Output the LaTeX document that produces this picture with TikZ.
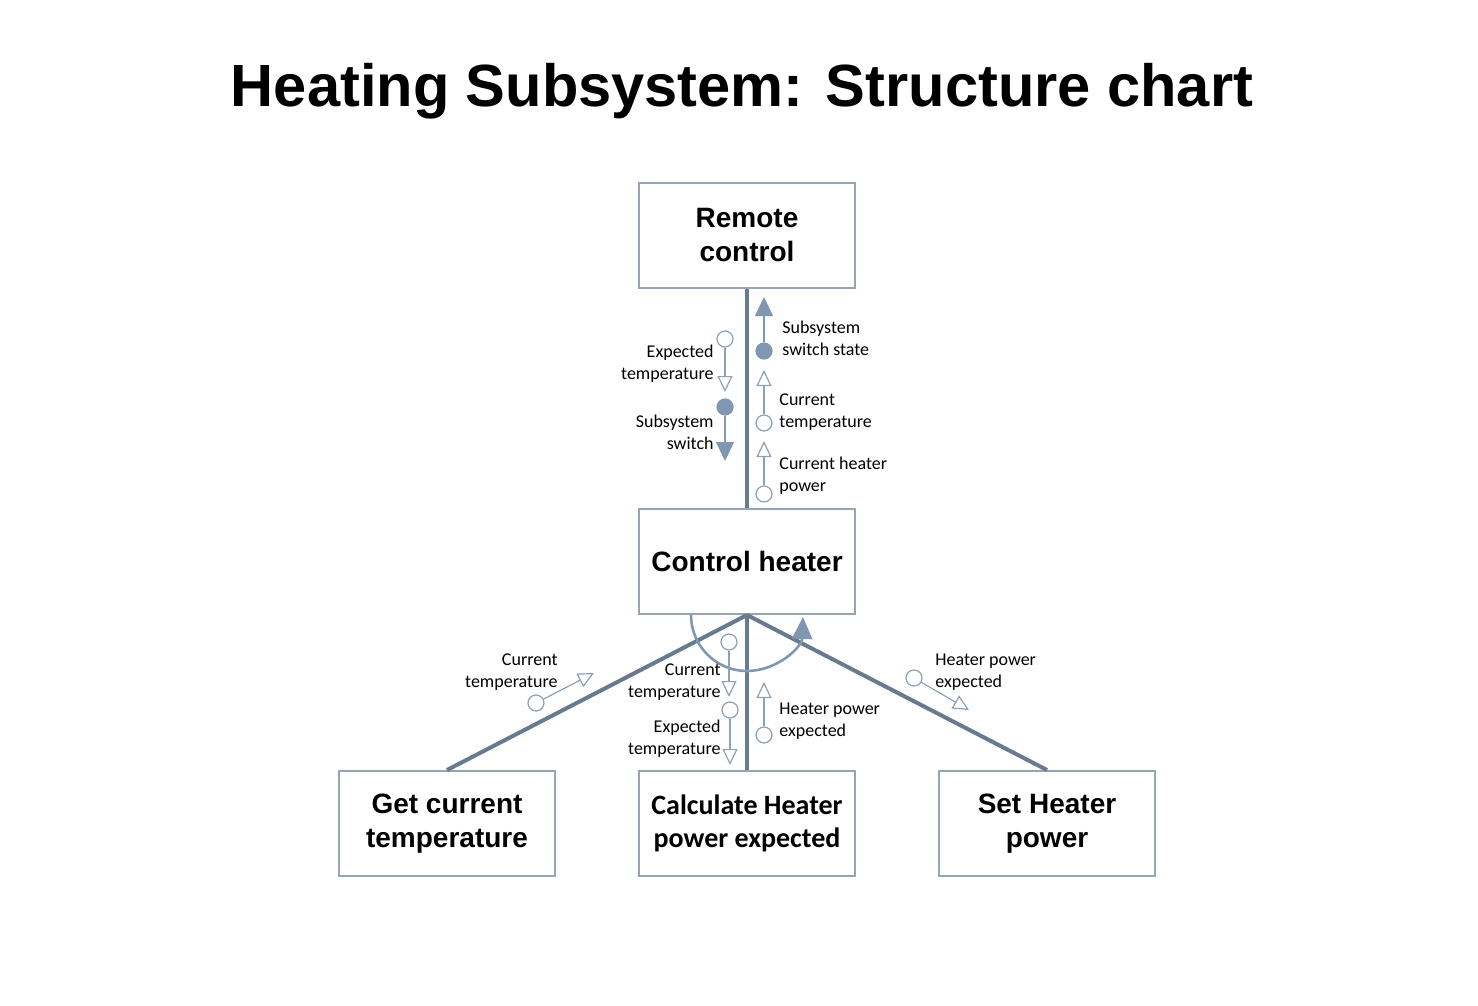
\documentclass[tikz,border=0pt]{standalone}
\usepackage{fontspec}
\setmainfont{Carlito}
\newfontfamily\headfont{Liberation Sans}
\usetikzlibrary{positioning,arrows.meta}

\definecolor{boxline}{RGB}{150,165,180}
\definecolor{mainline}{RGB}{104,122,142}
\definecolor{flowline}{RGB}{140,160,182}
\definecolor{flowfill}{RGB}{127,151,176}

\begin{document}
\begin{tikzpicture}[
    x=0.5pt, y=-0.5pt,
    box/.style={draw=boxline, line width=1pt, minimum width=108pt, minimum height=52.5pt,
        align=center, inner sep=0pt, font=\headfont\bfseries\fontsize{14}{17}\selectfont},
    link/.style={draw=mainline, line width=2pt},
    flow/.style={draw=flowline, line width=0.6pt},
    data/.style={flow, -{Triangle[open, length=8pt, width=7.5pt]}},
    ctrl/.style={draw=flowfill, line width=0.6pt, -{Triangle[length=9.5pt, width=9pt]}},
    dcirc/.style={circle, draw=flowline, fill=white, line width=0.6pt, minimum size=8pt, inner sep=0pt},
    ccirc/.style={dcirc, draw=flowfill, fill=flowfill},
    lab/.style={font=\fontsize{9}{11}\selectfont, inner sep=0pt},
    node distance=109.5pt and 41pt]

\useasboundingbox (0,0) rectangle (1478,1006);

% --- title
\node[font=\headfont\bfseries\fontsize{29.8}{36}\selectfont, anchor=base] (title) at (742,107)
    {Heating Subsystem: Structure chart};

% --- modules
\node[box] (remote) at (747,235.5) {Remote\\control};
\node[box, below=of remote] (control) {Control heater};
\node[box, below=77.5pt of control, font=\bfseries\fontsize{14}{16.5}\selectfont] (calc)
    {Calculate Heater\\power expected};
\node[box, left=of calc] (getcur) {Get current\\temperature};
\node[box, right=of calc] (setpow) {Set Heater\\power};

% --- calls
\draw[link] (remote) -- (control);
\draw[link] (control.south) -- (getcur.north);
\draw[link] (control.south) -- (calc.north);
\draw[link] (control.south) -- (setpow.north);

% --- loop
\coordinate (loopst) at ([xshift=-28pt]control.south);
\draw[flowfill, line width=1.3pt, -{Triangle[length=11pt, width=10pt]}]
    (loopst) arc[start angle=180, end angle=358, radius=28pt];

% --- couples, remote control <-> control heater
\node[dcirc] (exptmp) at (725,339) {};
\coordinate (exptmpe) at (725,392);
\draw[data] (exptmp) -- (exptmpe);
\node[lab, align=right, anchor=east] (exptmplab) at (714,364) {Expected\\temperature};

\node[ccirc] (subsw) at (725,407) {};
\coordinate (subswe) at (725,461);
\draw[ctrl] (subsw) -- (subswe);
\node[lab, align=right, anchor=east] (subswlab) at (714,432) {Subsystem\\switch};

\node[ccirc] (swstate) at (764,351) {};
\coordinate (swstatee) at (764,297);
\draw[ctrl] (swstate) -- (swstatee);
\node[lab, align=left, anchor=west] (swstatelab) at (782,338) {Subsystem\\switch state};

\node[dcirc] (curtmp) at (764,423) {};
\coordinate (curtmpe) at (764,370);
\draw[data] (curtmp) -- (curtmpe);
\node[lab, align=left, anchor=west] (curtmplab) at (779,412) {Current\\temperature};

\node[dcirc] (curpow) at (764,494) {};
\coordinate (curpowe) at (764,441);
\draw[data] (curpow) -- (curpowe);
\node[lab, align=left, anchor=west] (curpowlab) at (779,476) {Current heater\\power};

% --- couples, control heater -> lower modules
\node[dcirc] (gettmp) at (536,703) {};
\coordinate (gettmpe) at (594,673);
\draw[data] (gettmp) -- (gettmpe);
\node[lab, align=right, anchor=east] (gettmplab) at (558,672) {Current\\temperature};

\node[dcirc] (calctmp) at (729,642) {};
\coordinate (calctmpe) at (729,697);
\draw[data] (calctmp) -- (calctmpe);
\node[lab, align=right, anchor=east] (calctmplab) at (721,682) {Current\\temperature};

\node[dcirc] (calcexp) at (730,710) {};
\coordinate (calcexpe) at (730,765);
\draw[data] (calcexp) -- (calcexpe);
\node[lab, align=right, anchor=east] (calcexplab) at (721,739) {Expected\\temperature};

\node[dcirc] (calcpow) at (764,735) {};
\coordinate (calcpowe) at (764,682);
\draw[data] (calcpow) -- (calcpowe);
\node[lab, align=left, anchor=west] (calcpowlab) at (779,721) {Heater power\\expected};

\node[dcirc] (setexp) at (914,678) {};
\coordinate (setexpe) at (969,710);
\draw[data] (setexp) -- (setexpe);
\node[lab, align=left, anchor=west] (setexplab) at (935,672) {Heater power\\expected};
\end{tikzpicture}
\end{document}
